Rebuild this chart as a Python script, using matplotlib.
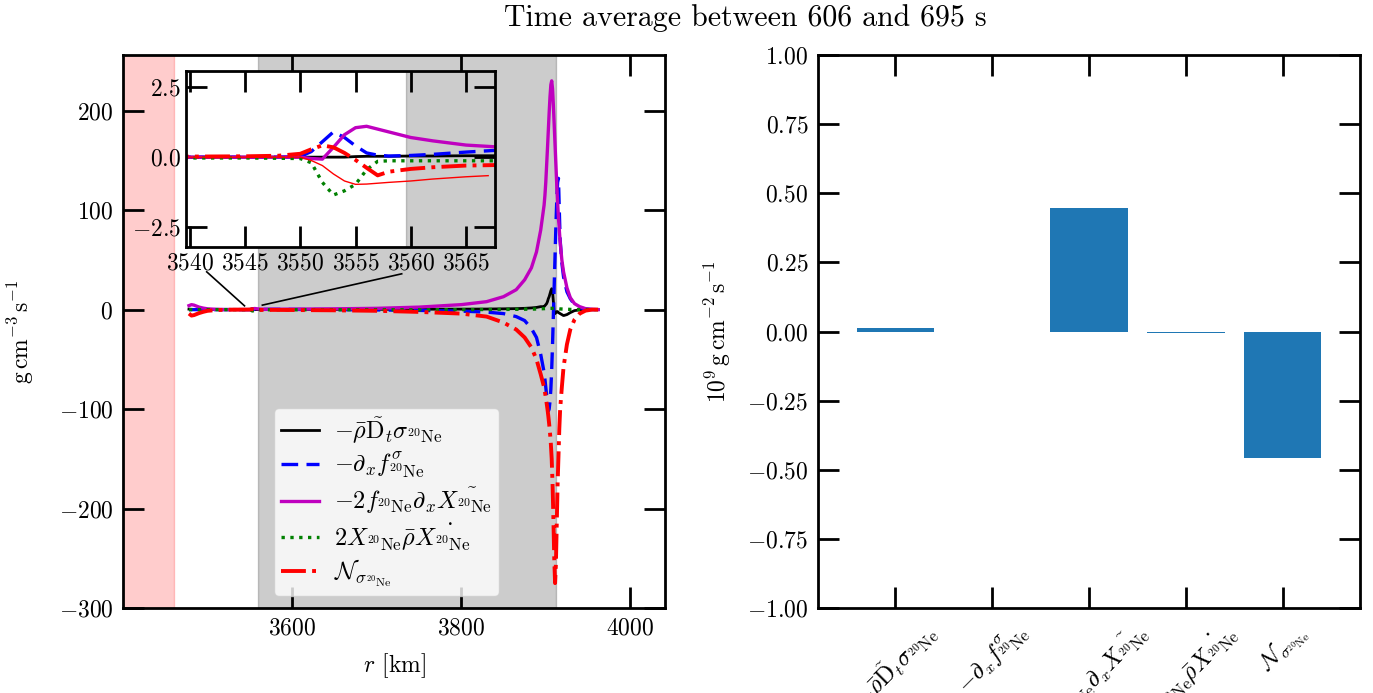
import numpy as np
import matplotlib
matplotlib.use("Agg")
import matplotlib.pyplot as plt
from matplotlib.ticker import FuncFormatter

plt.rcParams.update({
    "font.family": "serif",
    "font.serif": ["cmr10"],
    "mathtext.fontset": "cm",
    "axes.formatter.use_mathtext": True,
    "font.size": 17,
    "axes.linewidth": 2.0,
    "xtick.direction": "in", "ytick.direction": "in",
    "xtick.top": True, "ytick.right": True,
    "xtick.major.size": 15, "ytick.major.size": 15,
    "xtick.major.width": 2.0, "ytick.major.width": 2.0,
    "xtick.major.pad": 7, "ytick.major.pad": 7,
})

# ---- radial profiles (time averaged), g cm^-3 s^-1 ----
r = [3478, 3481, 3484, 3487, 3490, 3495, 3500, 3510, 3520, 3530,
     3540, 3545, 3548, 3550, 3551, 3552, 3553, 3554, 3555, 3556, 3557, 3558, 3560, 3562, 3565, 3568,
     3580, 3600, 3650, 3700, 3750, 3800, 3830, 3850, 3865, 3875, 3883, 3889, 3894,
     3898, 3899, 3900, 3901, 3902, 3903, 3904, 3905, 3906, 3907, 3908, 3909, 3910, 3911, 3912,
     3913, 3914, 3915, 3916, 3917,
     3919, 3921, 3925, 3929, 3934, 3940, 3947, 3955, 3962]

dt_term = [0.5, 0.3, 0.2, 0.1, 0.1, 0, 0, 0, 0, 0,
           0, 0, 0, 0, 0, 0, 0, 0, 0.02, 0.03, 0.03, 0.03, 0.04, 0.04, 0.05, 0.05,
           0.1, 0.1, 0.2, 0.3, 0.4, 0.5, 0.6, 0.8, 1.0, 1.3, 1.7, 2.2, 3.0,
           3, 4, 5, 6, 8, 11, 13, 16, 19, 21, 18, 8, -2, -4, -3,
           -2, -2, -3, -3.5, -4,
           -5, -6, -5, -3, -1, -0.3, 0, 0, 0]

flux_term = [0, 0, 0, 0, 0, 0, 0, 0, 0, 0,
             0, 0, 0, 0.02, 0.2, 0.55, 0.9, 0.7, 0.4, 0.15, 0.07, 0.04, 0.06, 0.1, 0.18, 0.25,
             0.3, 0.2, 0, -0.3, -0.8, -1.5, -2.5, -4, -7, -11, -19, -28, -45,
             -63, -70, -78, -86, -95, -102, -100, -92, -80, -60, -35, -5, 25, 55, 85,
             110, 128, 132, 100, 70,
             47, 33, 18, 11, 5, 2, 0.5, 0, 0]

grad_term = [4, 5, 4.5, 3.5, 2.5, 1.5, 0.8, 0.3, 0.1, 0.05,
             0, 0, 0, 0, -0.05, -0.07, 0.35, 0.8, 1.05, 1.1, 1.0, 0.9, 0.7, 0.58, 0.43, 0.36,
             0.4, 0.5, 0.8, 1.3, 2.5, 5, 8, 13, 20, 30, 42, 58, 80,
             105, 115, 128, 145, 162, 180, 198, 214, 226, 230, 222, 205, 185, 165, 145,
             125, 108, 92, 80, 68,
             50, 38, 22, 12, 6, 3, 1, 0.3, 0]

xdot_term = [0, 0, 0, 0, 0, 0, 0, 0, 0, 0,
             -0.03, -0.03, -0.04, -0.05, -0.2, -0.9, -1.35, -1.2, -0.97, -0.45, -0.15, -0.13, -0.13, -0.13, -0.13, -0.13,
             -0.13, -0.12, -0.1, -0.1, -0.1, 0, 0.1, 0.2, 0.3, 0.4, 0.5, 0.6, 0.8,
             1, 1, 1.1, 1.1, 1.2, 1.2, 1.3, 1.3, 1.3, 1.3, 1.2, 1.1, 1, 1, 0.9,
             0.9, 0.8, 0.8, 0.7, 0.7,
             0.6, 0.5, 0.4, 0.2, 0.1, 0, 0, 0, 0]

nuc_term = [-4, -6, -5.5, -4.5, -3.5, -2.2, -1.2, -0.5, -0.2, -0.05,
            0.02, 0.03, 0.05, 0.12, 0.28, 0.42, 0.35, 0.15, -0.1, -0.38, -0.65, -0.52, -0.42, -0.36, -0.3, -0.28,
            -0.3, -0.4, -0.7, -1.2, -2.3, -4, -7, -13, -20, -28, -38, -50, -65,
            -78, -83, -88, -94, -100, -107, -115, -124, -135, -150, -175, -210, -250, -275, -255,
            -215, -175, -148, -120, -100,
            -78, -58, -35, -20, -10, -4, -1, 0, 0]

# extra thin red profile shown only in the inset
r_thin = [3540, 3545, 3548, 3550, 3551, 3552, 3553, 3554, 3555, 3556, 3557, 3558, 3560, 3562, 3565, 3567]
thin_red = [0, 0, 0, 0, -0.12, -0.3, -0.6, -0.85, -0.97, -0.96, -0.93, -0.9, -0.85, -0.78, -0.7, -0.66]

# ---- integrated budget, 10^9 g cm^-2 s^-1 ----
bar_vals = [0.013, 0.0, 0.447, -0.005, -0.459]

NE = r"{}^{20}\mathrm{Ne}"
labels = [r"$-\bar{\rho}\tilde{\mathrm{D}}_t\sigma_{%s}$" % NE,
          r"$-\partial_x f^{\sigma}_{%s}$" % NE,
          r"$-2f_{%s}\partial_x\tilde{X_{%s}}$" % (NE, NE),
          r"$2X_{%s}\bar{\rho}\dot{X_{%s}}$" % (NE, NE),
          r"$\mathcal{N}_{\sigma_{%s}}$" % NE]

STYLES = [dict(color="k", lw=2.0, ls="-"),
          dict(color="b", lw=2.4, ls=(0, (5, 2.5))),
          dict(color="m", lw=2.4, ls="-"),
          dict(color="g", lw=2.4, ls=":"),
          dict(color="r", lw=2.8, ls="-.")]
SERIES = [dt_term, flux_term, grad_term, xdot_term, nuc_term]

red_span = (3400, 3460)
gray_span = (3559.6, 3912.5)

mfmt = lambda fmt: FuncFormatter(lambda v, p: "$" + fmt % v + "$")

fig = plt.figure(figsize=(13.73, 6.93), dpi=100)
ax = fig.add_axes([123 / 1373, 85 / 693, 542 / 1373, 553 / 693])
axb = fig.add_axes([818 / 1373, 85 / 693, 542 / 1373, 553 / 693])

ax.axvspan(*red_span, color="r", alpha=0.2)
ax.axvspan(*gray_span, color="k", alpha=0.2)
for y, lab, st in zip(SERIES, labels, STYLES):
    ax.plot(r, y, label=lab, **st)
ax.set_xlim(3400, 4041)
ax.set_ylim(-300, 256)
ax.set_xticks([3600, 3800, 4000])
ax.set_yticks([-300, -200, -100, 0, 100, 200])
ax.set_xlabel(r"$r$ [km]", labelpad=8)
ax.set_ylabel(r"$\mathrm{g\,cm^{-3}\,s^{-1}}$", labelpad=16)
ax.legend(loc="lower center", bbox_to_anchor=(0.486, 0.0), fontsize=17.5,
          handlelength=1.55, handletextpad=0.6, borderpad=0.3,
          labelspacing=0.2)

# inset around the lower boundary
ins = ax.inset_axes([0.117, 0.653, 0.569, 0.318])
ins.axvspan(*gray_span, color="k", alpha=0.2)
for y, st in zip(SERIES, STYLES):
    ins.plot(r, y, **st)
ins.plot(r_thin, thin_red, color="r", lw=1.0)
ins.set_xlim(3539.7, 3567.6)
ins.set_ylim(-3.2, 3.07)
ins.set_xticks([3540, 3545, 3550, 3555, 3560, 3565])
ins.set_yticks([-2.5, 0, 2.5])
ins.yaxis.set_major_formatter(mfmt("%.1f"))
ins.tick_params(labelsize=17, pad=4)

# connector lines from the zoomed strip towards the inset
ax.plot([3499, 3543.7], [38, 3.8], color="k", lw=1.2)
ax.plot([3729.6, 3564.8], [36, 4.5], color="k", lw=1.2)

# bar chart
xpos = np.arange(len(bar_vals))
axb.bar(xpos, bar_vals, width=0.8, color="#1f77b4")
axb.set_xlim(-0.8, 4.8)
axb.set_ylim(-1, 1)
axb.set_yticks(np.arange(-1, 1.01, 0.25))
axb.yaxis.set_major_formatter(mfmt("%.2f"))
axb.set_xticks(xpos)
axb.set_xticklabels(labels, rotation=45)
axb.set_ylabel(r"$10^9\,\mathrm{g\,cm^{-2}\,s^{-1}}$", labelpad=10)

fig.suptitle("Time average between 606 and 695 s", x=0.5426, y=0.974,
             va="center", fontsize=21.5)
fig.savefig("out.png", dpi=100)
